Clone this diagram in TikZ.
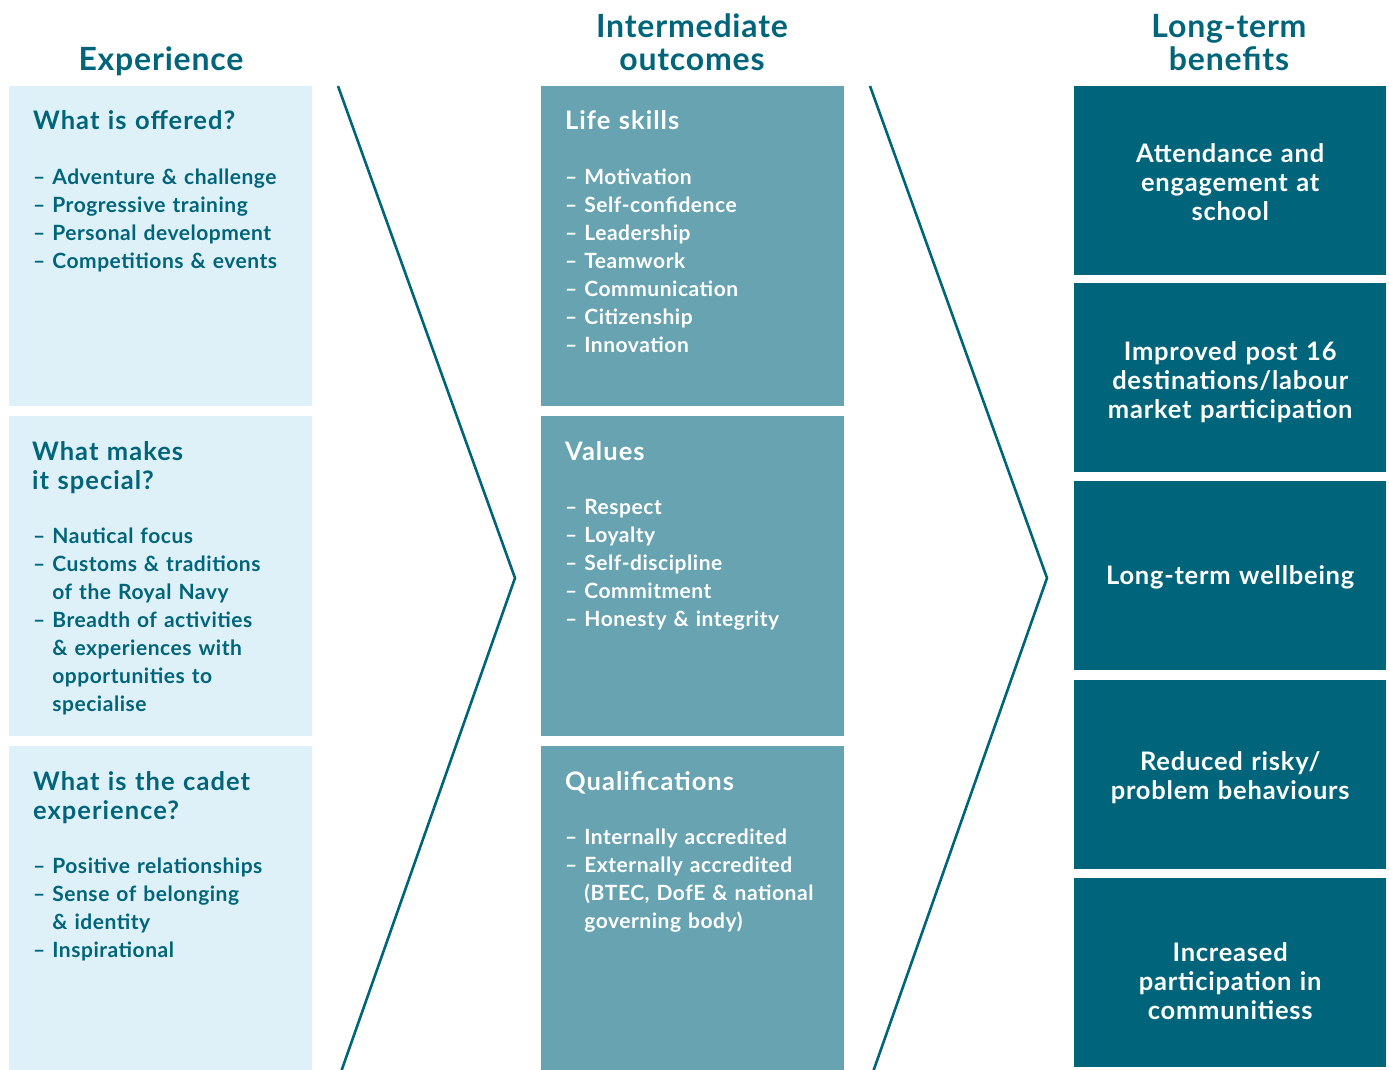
\documentclass[tikz,border=0pt]{standalone}
\usepackage{fontspec}
\setmainfont{Lato}
\definecolor{darkteal}{RGB}{0,101,122}
\definecolor{midteal}{RGB}{103,163,176}
\definecolor{paleblue}{RGB}{223,241,248}
\newcommand\ind{\phantom{– }}
\tikzset{
  colhead/.style={text=darkteal, font=\fontsize{32}{33}\selectfont\bfseries\addfontfeatures{LetterSpace=2.5},
    text width=320, align=center, anchor=base, inner sep=0},
  palebox/.style={fill=paleblue, anchor=north west, minimum width=303,
    minimum height=320, inner sep=0},
  midbox/.style={fill=midteal, anchor=north west, minimum width=303,
    minimum height=320, inner sep=0},
  darkbox/.style={fill=darkteal, anchor=north west, minimum width=312,
    minimum height=189, inner sep=0},
  benefit/.style={text=white, inner sep=0, text width=300, align=center,
    font=\fontsize{25.5}{29}\selectfont\bfseries\addfontfeatures{LetterSpace=3}},
  boxtitle/.style={anchor=base west, inner sep=0, text width=290, align=left,
    font=\fontsize{25.5}{29}\selectfont\bfseries\addfontfeatures{LetterSpace=4}},
  boxlist/.style={anchor=base west, inner sep=0, text width=290, align=left,
    font=\fontsize{21}{28}\selectfont\bfseries\addfontfeatures{LetterSpace=2.5}},
  chevron/.style={draw=darkteal, line width=2.6pt}
}
\begin{document}
\begin{tikzpicture}[x=1pt,y=-1pt]
\useasboundingbox (0,0) rectangle (1389,1070);

% column heads
\node[colhead] (hexp) at (161,71) {Experience};
\node[colhead] (hmid) at (692,38) {Intermediate\\outcomes};
\node[colhead] (hlong) at (1229,38) {Long-term\\benefits};

% experience
\node[palebox] (offer) at (9,86) {};
\node[palebox] (special) at (9,416) {};
\node[palebox, minimum height=324] (cadet) at (9,746) {};

\node[boxtitle, text=darkteal] (offer-t) at (33,130) {What is offered?};
\node[boxlist, text=darkteal] (offer-l) at (33,184)
  {– Adventure \& challenge\\– Progressive training\\– Personal development\\– Competitions \& events};

\node[boxtitle, text=darkteal] (special-t) at (32,460) {What makes\\it special?};
\node[boxlist, text=darkteal] (special-l) at (33,543)
  {– Nautical focus\\– Customs \& traditions\\\ind of the Royal Navy\\– Breadth of activities\\\ind \& experiences with\\\ind opportunities to\\\ind specialise};

\node[boxtitle, text=darkteal] (cadet-t) at (33,790) {What is the cadet\\experience?};
\node[boxlist, text=darkteal] (cadet-l) at (33,873)
  {– Positive relationships\\– Sense of belonging\\\ind \& identity\\– Inspirational};

% intermediate outcomes
\node[midbox] (skills) at (541,86) {};
\node[midbox] (values) at (541,416) {};
\node[midbox, minimum height=324] (quals) at (541,746) {};

\node[boxtitle, text=white] (skills-t) at (565,130) {Life skills};
\node[boxlist, text=white] (skills-l) at (565,184)
  {– Motivation\\– Self-confidence\\– Leadership\\– Teamwork\\– Communication\\– Citizenship\\– Innovation};

\node[boxtitle, text=white] (values-t) at (565,460) {Values};
\node[boxlist, text=white] (values-l) at (565,514)
  {– Respect\\– Loyalty\\– Self-discipline\\– Commitment\\– Honesty \& integrity};

\node[boxtitle, text=white] (quals-t) at (565,790) {Qualifications};
\node[boxlist, text=white] (quals-l) at (565,844)
  {– Internally accredited\\– Externally accredited\\\ind (BTEC, DofE \& national\\\ind governing body)};

% long-term benefits
\foreach \i/\y/\dy/\txt in {1/86/1/{Attendance and\\engagement at\\school},
                        2/283/4/{Improved post 16\\destinations/labour\\market participation},
                        3/481/2/{Long-term wellbeing},
                        4/680/3/{Reduced risky/\\problem behaviours},
                        5/878/8/{Increased\\participation in\\communitiess}}
{
	\node[darkbox] (b\i) at (1074,\y) {};
	\node[benefit] (b\i-t) at ([yshift=-\dy pt] b\i.center) {\txt};
};

% chevrons
\coordinate (c1a) at (338,86);
\coordinate (c1b) at (515,578);
\coordinate (c1c) at (341,1072);
\coordinate (c2a) at (870,86);
\coordinate (c2b) at (1047,578);
\coordinate (c2c) at (873,1072);
\draw[chevron] (c1a) -- (c1b) -- (c1c);
\draw[chevron] (c2a) -- (c2b) -- (c2c);
\end{tikzpicture}
\end{document}
